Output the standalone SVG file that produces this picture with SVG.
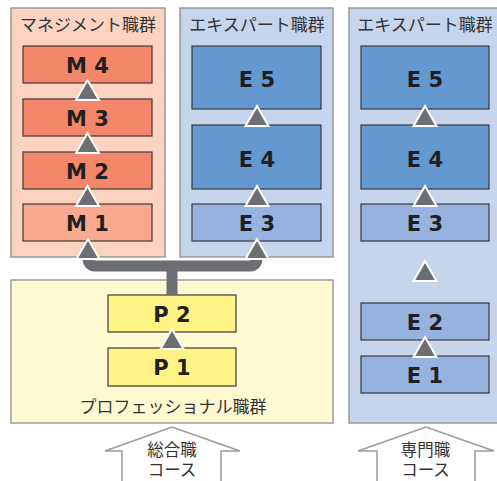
<svg xmlns="http://www.w3.org/2000/svg" xmlns:xlink="http://www.w3.org/1999/xlink" width="497" height="481" viewBox="0 0 497 481">
<style>
.panel{stroke:#9a9a9a;stroke-width:1.5}
.box{stroke:#3a3a3a;stroke-width:1.2}
.jp{font-family:"Noto Sans CJK JP","Noto Sans",sans-serif;font-size:17px;fill:#333;text-anchor:middle}
.cs{font-size:16.5px}
.lbl{font-family:"DejaVu Sans","Liberation Sans",sans-serif;font-weight:bold;font-size:21px;fill:#231f20;text-anchor:middle}
.mD{fill:#f4866a}.mL{fill:#f8a98e}
.eD{fill:#6399d0}.eL{fill:#95b3de}
.p{fill:#fff385}
.course{fill:#fff;stroke:#9a9a9a;stroke-width:1.5}
</style>
<defs>
<polygon id="tri" points="0,0 11.5,20 -11.5,20" fill="#6d6e71" stroke="#fff" stroke-width="2"/>
</defs>

<g id="panel-management">
<rect class="panel" x="11" y="8" width="154" height="249" fill="#fcd3c1"/>
<text class="jp" x="88" y="31">マネジメント職群</text>
</g>
<g id="panel-expert1">
<rect class="panel" x="180" y="8" width="153" height="249" fill="#c6d4ec"/>
<text class="jp" x="257" y="31">エキスパート職群</text>
</g>
<g id="panel-expert2">
<rect class="panel" x="349" y="8" width="160" height="415" fill="#c6d4ec"/>
<text class="jp" x="425" y="31">エキスパート職群</text>
</g>
<g id="panel-professional">
<rect class="panel" x="11" y="280" width="322" height="143" fill="#fff9d2"/>
<text class="jp" x="173" y="413">プロフェッショナル職群</text>
</g>

<g id="M4"><rect class="box mD" x="23" y="46" width="129" height="37"/><text class="lbl" x="87.5" y="73">M 4</text></g>
<g id="M3"><rect class="box mD" x="23" y="99" width="129" height="37"/><text class="lbl" x="87.5" y="126">M 3</text></g>
<g id="M2"><rect class="box mD" x="23" y="152" width="129" height="37"/><text class="lbl" x="87.5" y="179">M 2</text></g>
<g id="M1"><rect class="box mL" x="23" y="204" width="129" height="37"/><text class="lbl" x="87.5" y="231">M 1</text></g>

<g id="E5a"><rect class="box eD" x="192" y="46" width="129" height="63"/><text class="lbl" x="257" y="87">E 5</text></g>
<g id="E4a"><rect class="box eD" x="192" y="125" width="129" height="64"/><text class="lbl" x="257" y="167">E 4</text></g>
<g id="E3a"><rect class="box eL" x="192" y="204" width="129" height="37"/><text class="lbl" x="257" y="231">E 3</text></g>

<g id="E5b"><rect class="box eD" x="361" y="46" width="128" height="63"/><text class="lbl" x="425" y="87">E 5</text></g>
<g id="E4b"><rect class="box eD" x="361" y="125" width="128" height="64"/><text class="lbl" x="425" y="167">E 4</text></g>
<g id="E3b"><rect class="box eL" x="361" y="204" width="128" height="37"/><text class="lbl" x="425" y="231">E 3</text></g>
<g id="E2b"><rect class="box eL" x="361" y="303" width="128" height="37"/><text class="lbl" x="425" y="330">E 2</text></g>
<g id="E1b"><rect class="box eL" x="361" y="356" width="128" height="37"/><text class="lbl" x="425" y="383">E 1</text></g>

<g id="P2"><rect class="box p" x="108" y="295" width="128" height="37"/><text class="lbl" x="172" y="322">P 2</text></g>
<g id="P1"><rect class="box p" x="108" y="348" width="128" height="38"/><text class="lbl" x="172" y="375">P 1</text></g>

<g id="connectors">
<path d="M172,295 V266 M88,256 V258 Q88,266 96,266 H249 Q257,266 257,258 V256" fill="none" stroke="#6d6e71" stroke-width="11"/>
<use xlink:href="#tri" x="88" y="239"/>
<use xlink:href="#tri" x="257" y="239"/>
<use xlink:href="#tri" x="87.5" y="80"/>
<use xlink:href="#tri" x="87.5" y="133"/>
<use xlink:href="#tri" x="87.5" y="186"/>
<use xlink:href="#tri" x="257" y="106"/>
<use xlink:href="#tri" x="257" y="186"/>
<use xlink:href="#tri" x="425" y="106"/>
<use xlink:href="#tri" x="425" y="186"/>
<use xlink:href="#tri" x="425" y="261"/>
<use xlink:href="#tri" x="425" y="337"/>
<use xlink:href="#tri" x="172" y="329"/>
</g>

<g id="course-general">
<path class="course" d="M122,482 V451 H105 L172,427 L240,451 H221 V482"/>
<text class="jp cs"><tspan x="172" y="456">総合職</tspan><tspan x="172" y="476">コース</tspan></text>
</g>
<g id="course-specialist">
<path class="course" d="M377,482 V451 H358 L426,427 L494,451 H475 V482"/>
<text class="jp cs"><tspan x="425.5" y="456">専門職</tspan><tspan x="425.5" y="476">コース</tspan></text>
</g>
</svg>
